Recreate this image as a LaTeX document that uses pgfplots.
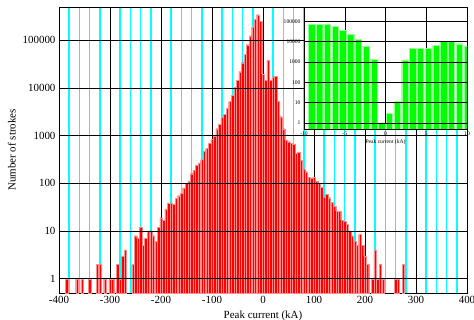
\documentclass[border=0pt]{standalone}
\usepackage{fontspec}
\setmainfont{Liberation Serif}
\usepackage{pgfplots}
\pgfplotsset{compat=1.18}
\usepackage{pgfplotstable}
\definecolor{aqua}{RGB}{0,255,255}

\pgfplotstableread{
x y
-385 1
-365 1
-355 1
-340 1
-325 2
-320 2
-310 1
-300 1
-295 1
-285 2
-280 1
-275 3
-270 4
-255 2
-250 8
-245 7
-240 12
-235 5
-230 7
-225 10
-220 10
-215 8
-210 6
-205 12
-200 19
-195 17
-190 29
-185 39
-180 39
-175 37
-170 48
-165 55
-160 62
-155 80
-150 100
-145 112
-140 160
-135 190
-130 238
-125 270
-120 315
-115 480
-110 540
-105 685
-100 830
-95 1000
-90 1400
-85 1740
-80 2400
-75 2830
-70 3700
-65 5200
-60 7000
-55 10300
-50 14700
-45 22000
-40 34000
-35 51000
-30 81000
-25 124000
-20 190000
-15 280000
-10 345000
-5 254000
0 19500
5 14700
10 38000
15 14500
20 17000
25 17500
30 5200
35 2500
40 1400
45 820
50 750
55 700
60 650
65 430
70 450
75 300
80 200
85 175
90 135
95 130
100 135
105 110
110 100
115 82
120 52
125 60
130 50
135 40
140 33
145 26
150 26
155 17
160 16
165 14
170 10
175 8
180 6
185 5
190 8.5
195 5
200 3
205 2
215 1
220 4
225 1
230 2
235 1
260 1
265 1
275 2
}\maindata

\pgfplotstableread{
x y
-9.048 69000
-8.096 69000
-7.144 69000
-6.192 57000
-5.240 36000
-4.288 23000
-3.336 13000
-2.384 6200
-1.432 1380
-0.480 1
0.472 3
1.424 11
2.376 1270
3.328 4800
4.280 4800
5.232 4600
6.184 6400
7.136 10000
8.088 10000
9.040 7800
9.992 6200
}\insetdata

\begin{document}
\begin{tikzpicture}
\begin{axis}[
  name=main,
  at={(0,0)}, anchor=south west,
  width=408bp, height=286bp, scale only axis,
  xmin=-400, xmax=400, ymin=0.5, ymax=500000,
  ymode=log, log origin=infty,
  xtick={-400,-300,...,400},
  xticklabels={-400,-300,-200,-100,0,100,200,300,400},
  minor xtick={-380,-360,-340,-320,-280,-260,-240,-220,-180,-160,-140,-120,-80,-60,-40,-20,20,40,60,80,120,140,160,180,220,240,260,280,320,340,360,380},
  ytick={1,10,100,1000,10000,100000},
  yticklabels={1,10,100,1000,10000,100000},
  xmajorgrids, xminorgrids,
  major grid style={black, line width=0.6pt},
  minor grid style={aqua, line width=1.6pt},
  major tick length=0pt, minor tick length=0pt,
  axis line style={black, line width=0.6pt},
  tick label style={font=\fontsize{11}{13}\selectfont},
  label style={font=\fontsize{11}{13}\selectfont},
  xlabel={Peak current (kA)},
  ylabel={Number of strokes},
  ybar, bar width=4.7,
]
\addplot[fill=red, draw=red!45!white, line width=0.15pt] table {\maindata};
\pgfplotsinvokeforeach{1,10,100,1000,10000,100000}{\draw[black,line width=0.6pt] (axis cs:-400,#1) -- (axis cs:400,#1);}
\end{axis}
\begin{axis}[
  at={(245bp,164bp)}, anchor=south west,
  width=163bp, height=122bp, scale only axis,
  xmin=-10, xmax=10, ymin=0.5, ymax=500000,
  ymode=log, log origin=infty,
  axis background/.style={fill=white},
  xtick={-10,-5,0,5,10},
  xticklabels={-10,-5,0,5,10},
  ytick={1,10,100,1000,10000,100000},
  yticklabels={1,10,100,1000,10000,100000},
  xmajorgrids,
  major grid style={black, line width=0.5pt},
  major tick length=0pt, minor tick length=0pt,
  axis line style={black, line width=0.6pt},
  tick label style={font=\fontsize{5.6}{6}\selectfont},
  label style={font=\fontsize{5.6}{6}\selectfont},
  xticklabel style={yshift=1pt},
  xlabel={Peak current (kA)},
  xlabel style={yshift=3pt},
  ybar, bar width=0.78,
]
\addplot[fill=green, draw=green!40!white, line width=0.3pt] table {\insetdata};
\pgfplotsinvokeforeach{1,10,100,1000,10000,100000}{\draw[black,line width=0.5pt] (axis cs:-10,#1) -- (axis cs:10,#1);}
\end{axis}
\pgfresetboundingbox
\path[use as bounding box] (-59bp,-27bp) rectangle (415bp,293bp);
\end{tikzpicture}
\end{document}
